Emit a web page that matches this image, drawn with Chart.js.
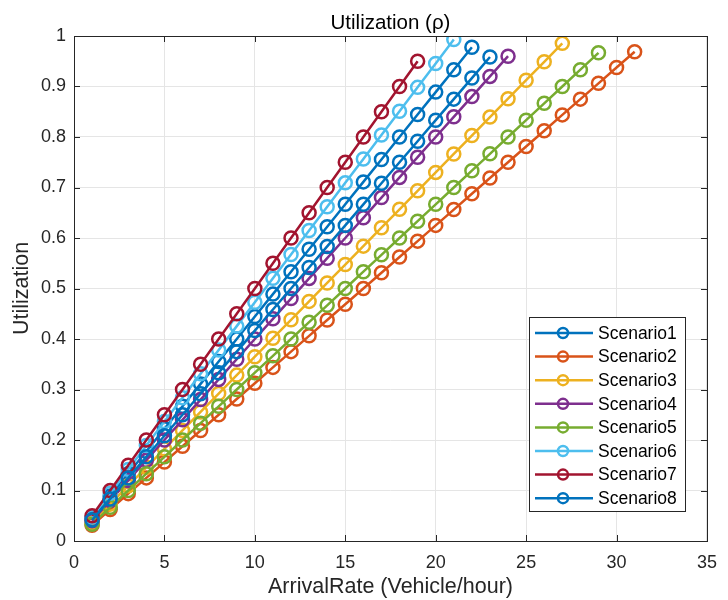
<!DOCTYPE html>
<html lang="en">
<head>
  <meta charset="UTF-8">
  <title>Utilization</title>
  <script src="https://cdn.jsdelivr.net/npm/chart.js"></script>
  <style>
    body { margin: 0; background: #fff; }
    #wrap { width: 728px; height: 600px; }
  </style>
</head>
<body>
  <div id="wrap"><canvas id="utilChart" width="728" height="600"></canvas></div>
  <script>
    // arrival rate (vehicle/hour), shared x values
    const arrivalRate = [1,2,3,4,5,6,7,8,9,10,11,12,13,14,15,16,17,18,19,20,21,22,23,24,25,26,27,28,29,30,31];

    const scenarioNames = ['Scenario1','Scenario2','Scenario3','Scenario4','Scenario5','Scenario6','Scenario7','Scenario8'];

    const scenario1 = [0.0444,0.0889,0.1333,0.1778,0.2222,0.2667,0.3111,0.3556,0.4,0.4444,0.4889,0.5333,0.5778,0.6222,0.6667,0.7111,0.7556,0.8,0.8444,0.8889,0.9333,0.9778];
    const scenario2 = [0.0313,0.0625,0.0938,0.125,0.1563,0.1875,0.2188,0.25,0.2813,0.3125,0.3438,0.375,0.4063,0.4375,0.4688,0.5,0.5313,0.5625,0.5938,0.625,0.6563,0.6875,0.7188,0.75,0.7813,0.8125,0.8438,0.875,0.9063,0.9375,0.9688];
    const scenario3 = [0.0365,0.0730,0.1095,0.1460,0.1825,0.2190,0.2555,0.2920,0.3285,0.3650,0.4015,0.4380,0.4745,0.5109,0.5474,0.5839,0.6204,0.6569,0.6934,0.7299,0.7664,0.8029,0.8394,0.8759,0.9124,0.9489,0.9854];
    const scenario4 = [0.04,0.08,0.12,0.16,0.2,0.24,0.28,0.32,0.36,0.4,0.44,0.48,0.52,0.56,0.6,0.64,0.68,0.72,0.76,0.8,0.84,0.88,0.92,0.96];
    const scenario5 = [0.0333,0.0667,0.1,0.1333,0.1667,0.2,0.2333,0.2667,0.3,0.3333,0.3667,0.4,0.4333,0.4667,0.5,0.5333,0.5667,0.6,0.6333,0.6667,0.7,0.7333,0.7667,0.8,0.8333,0.8667,0.9,0.9333,0.9667];
    const scenario6 = [0.0473,0.0946,0.1418,0.1891,0.2364,0.2837,0.3310,0.3783,0.4255,0.4728,0.5201,0.5674,0.6147,0.6619,0.7092,0.7565,0.8038,0.8511,0.8983,0.9456,0.9929];
    const scenario7 = [0.05,0.1,0.15,0.2,0.25,0.3,0.35,0.4,0.45,0.5,0.55,0.6,0.65,0.7,0.75,0.8,0.85,0.9,0.95];
    const scenario8 = [0.0417,0.0833,0.125,0.1667,0.2083,0.25,0.2917,0.3333,0.375,0.4167,0.4583,0.5,0.5417,0.5833,0.625,0.6667,0.7083,0.75,0.7917,0.8333,0.875,0.9167,0.9583];

    const xTicks = [0,5,10,15,20,25,30,35];
    const yTicks = [0,0.1,0.2,0.3,0.4,0.5,0.6,0.7,0.8,0.9,1];

    const colors = ['#0072BD','#D95319','#EDB120','#7E2F8E','#77AC30','#4DBEEE','#A2142F','#0072BD'];
    const allSeries = [scenario1,scenario2,scenario3,scenario4,scenario5,scenario6,scenario7,scenario8];

    const axisColor = '#262626';
    const fontFamily = '"Liberation Sans", Arial, sans-serif';

    const datasets = allSeries.map((s, i) => ({
      label: scenarioNames[i],
      data: s.map((v, j) => ({ x: arrivalRate[j], y: v })),
      borderColor: colors[i],
      backgroundColor: 'rgba(0,0,0,0)',
      pointBackgroundColor: 'rgba(0,0,0,0)',
      pointBorderColor: colors[i],
      pointRadius: 6.5,
      pointBorderWidth: 2.5,
      borderWidth: 2.5,
      order: 7 - i
    }));

    // title, axis labels, inward ticks, box and legend
    const extras = {
      id: 'extras',
      afterDraw(chart) {
        const c = chart.ctx;
        const a = chart.chartArea;
        const xs = chart.scales.x, ys = chart.scales.y;
        c.save();
        c.strokeStyle = axisColor;
        c.lineWidth = 1;
        c.beginPath();
        xTicks.forEach(t => {
          const px = Math.round(xs.getPixelForValue(t)) + 0.5;
          c.moveTo(px, a.bottom); c.lineTo(px, a.bottom - 6);
          c.moveTo(px, a.top); c.lineTo(px, a.top + 6);
        });
        yTicks.forEach(t => {
          const py = Math.round(ys.getPixelForValue(t)) + 0.5;
          c.moveTo(a.left, py); c.lineTo(a.left + 6, py);
          c.moveTo(a.right, py); c.lineTo(a.right - 6, py);
        });
        c.stroke();
        c.strokeRect(a.left + 0.5, a.top + 0.5, a.right - a.left, a.bottom - a.top);

        const midX = (a.left + a.right) / 2;
        c.fillStyle = '#000';
        c.textAlign = 'center';
        c.textBaseline = 'alphabetic';
        c.font = '20.5px ' + fontFamily;
        c.fillText('Utilization (\u03c1)', midX, 29);
        c.fillStyle = axisColor;
        c.font = '21.5px ' + fontFamily;
        c.fillText('ArrivalRate (Vehicle/hour)', midX, 593);
        c.save();
        c.translate(28, (a.top + a.bottom) / 2);
        c.rotate(-Math.PI / 2);
        c.fillText('Utilization', 0, 0);
        c.restore();

        // legend box
        const lx = 529, ly = 317, lw = 156, lh = 194;
        c.fillStyle = '#fff';
        c.fillRect(lx, ly, lw, lh);
        c.strokeStyle = '#262626';
        c.lineWidth = 1;
        c.strokeRect(lx + 0.5, ly + 0.5, lw, lh);
        c.textAlign = 'left';
        c.textBaseline = 'middle';
        c.font = '17.5px ' + fontFamily;
        chart.data.datasets.forEach((ds, i) => {
          const y = 333 + i * 23.6;
          c.strokeStyle = ds.borderColor;
          c.lineWidth = 2.5;
          c.beginPath();
          c.moveTo(535, y); c.lineTo(593, y);
          c.stroke();
          c.beginPath();
          c.arc(563, y, 5, 0, Math.PI * 2);
          c.stroke();
          c.fillStyle = '#000';
          c.fillText(ds.label, 598, y + 1);
        });
        c.restore();
      }
    };

    new Chart(document.getElementById('utilChart'), {
      type: 'line',
      data: { datasets },
      options: {
        responsive: false,
        animation: false,
        layout: { padding: { top: 36, right: 16, left: 0, bottom: 0 } },
        plugins: { legend: { display: false }, title: { display: false }, tooltip: { enabled: false } },
        scales: {
          x: {
            type: 'linear',
            min: 0, max: 35,
            afterFit: s => { s.height = 59; },
            afterBuildTicks: s => { s.ticks = xTicks.map(v => ({ value: v })); },
            grid: { color: '#e5e5e5', drawTicks: false },
            border: { display: false },
            ticks: { color: axisColor, padding: 11, font: { family: fontFamily, size: 18 }, maxRotation: 0 }
          },
          y: {
            min: 0, max: 1,
            afterFit: s => { s.width = 74; },
            afterBuildTicks: s => { s.ticks = yTicks.map(v => ({ value: v })); },
            grid: { color: '#e5e5e5', drawTicks: false },
            border: { display: false },
            ticks: {
              color: axisColor, padding: 8, font: { family: fontFamily, size: 18 },
              callback: v => String(+v.toFixed(1))
            }
          }
        }
      },
      plugins: [extras]
    });
  </script>
</body>
</html>
